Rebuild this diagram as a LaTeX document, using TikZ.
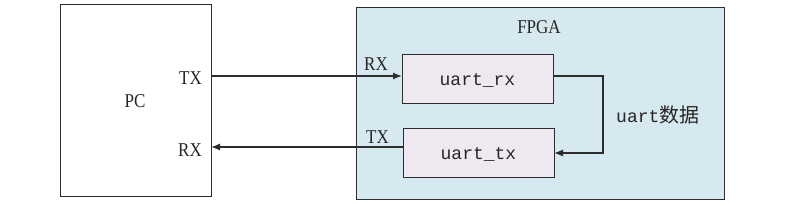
\documentclass[tikz,border=0pt]{standalone}
\usepackage{fontspec}
\usepackage{graphicx}
\setmainfont{Liberation Serif}
\setmonofont{Liberation Mono}
\newfontfamily\cjk{Noto Sans CJK SC}
\usetikzlibrary{arrows.meta}
\definecolor{fpgablue}{RGB}{214,233,240}
\definecolor{modfill}{RGB}{238,232,240}
\definecolor{linec}{RGB}{45,45,45}
\newcommand{\tall}[1]{\scalebox{1}[1.15]{#1}}
\begin{document}
\begin{tikzpicture}[x=1pt,y=-1pt,
  box/.style={draw=linec,line width=1.3pt,inner sep=0pt},
  lbl/.style={font=\fontsize{17}{17}\selectfont,inner sep=0pt,text=black!85},
  modlbl/.style={font=\ttfamily\fontsize{18}{18}\selectfont,inner sep=0pt,text=black!85},
  conn/.style={draw=linec,line width=1.3pt,-{Latex[length=9pt,width=7pt]}}]
\useasboundingbox (0,0) rectangle (787,206);
% PC
\node[box,minimum width=151pt,minimum height=192pt,anchor=north west] (pc) at (60,4) {};
\node[lbl] (pclbl) at (135,101) {\tall{PC}};
\node[lbl,anchor=east] (pctx) at (202,78) {\tall{TX}};
\node[lbl,anchor=east] (pcrx) at (202,150) {\tall{RX}};
% FPGA
\node[box,fill=fpgablue,minimum width=368pt,minimum height=192pt,anchor=north west] (fpga) at (356,7) {};
\node[lbl] (fpgalbl) at (539,27) {\tall{FPGA}};
% modules
\node[box,fill=modfill,minimum width=151pt,minimum height=49pt,anchor=north west] (rx) at (402,54) {};
\node[modlbl] (rxlbl) at (477.5,80) {uart\_rx};
\node[box,fill=modfill,minimum width=151pt,minimum height=49pt,anchor=north west] (tx) at (403,128) {};
\node[modlbl] (txlbl) at (478.5,154) {uart\_tx};
\node[lbl,anchor=west] (rxport) at (364,64) {\tall{RX}};
\node[lbl,anchor=west] (txport) at (366,137) {\tall{TX}};
% connection coordinates
\coordinate (a1) at (211,76);
\coordinate (a2) at (402,76);
\coordinate (b1) at (403,147);
\coordinate (b2) at (211,147);
\coordinate (c1) at (553,76);
\coordinate (c2) at (554,153);
\draw[conn] (a1) -- (a2);
\draw[conn] (b1) -- (b2);
\draw[conn] (c1) -- (603,76) -- (603,153) -- (c2);
\node[anchor=west,inner sep=0pt,text=black!85] (data) at (616,115) {\ttfamily\fontsize{18}{18}\selectfont uart\cjk\fontsize{20}{20}\selectfont 数据};
\end{tikzpicture}
\end{document}
